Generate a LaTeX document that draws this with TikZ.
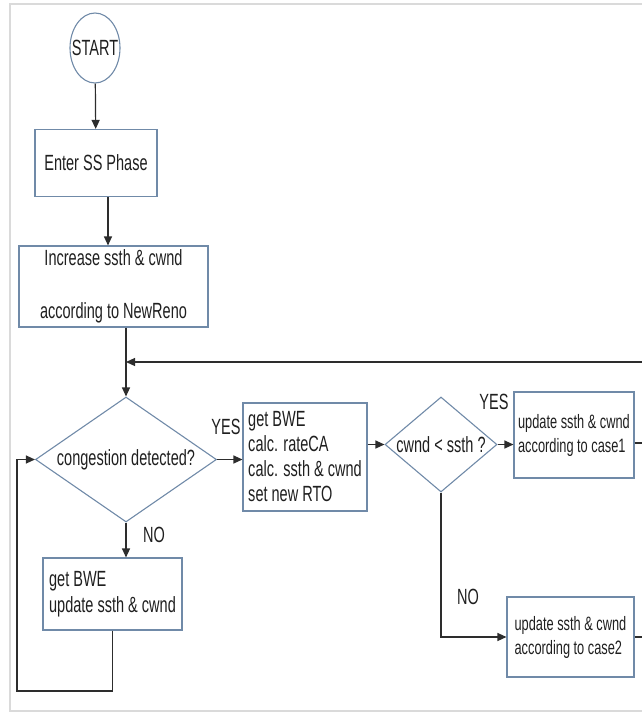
\documentclass[tikz,border=0pt]{standalone}
\usepackage{fontspec}
\setmainfont{Liberation Sans}[FakeStretch=0.66]
\usetikzlibrary{arrows.meta,shapes.geometric}
\definecolor{boxc}{RGB}{112,138,168}
\definecolor{linec}{RGB}{45,45,45}
\definecolor{framec}{RGB}{218,218,218}
\tikzset{
  every node/.style={font=\fontsize{22}{25}\selectfont, text=black!88},
  box/.style={draw=boxc, line width=1.1pt, rectangle, inner sep=0pt, align=left},
  dia/.style={draw=boxc, line width=1.1pt, diamond, inner sep=0pt},
  small/.style={font=\fontsize{19.4}{24}\selectfont},
  conn/.style={draw=linec, line width=1.2pt},
  arr/.style={conn, -{Triangle[length=9pt,width=8pt]}},
  lab/.style={inner sep=0pt}
}
\begin{document}
\begin{tikzpicture}[x=1pt,y=-1pt]
\useasboundingbox (0,0) rectangle (642,713);
\draw[framec, line width=1.6pt] (642,4) -- (10,4) -- (10,711) -- (642,711);

\node[draw=boxc, line width=1.1pt, ellipse, inner sep=0pt, minimum width=50pt, minimum height=70pt] (start) at (95,48) {\makebox[0pt]{START}};
\node[box, minimum width=122pt, minimum height=67pt, align=center] (enter) at (96,163) {Enter SS Phase};
\node[box, minimum width=189pt, minimum height=81pt, align=center] (incr) at (113.5,286.5) {Increase ssth \& cwnd\\[28pt]according to NewReno};
\node[dia, minimum width=181pt, minimum height=125pt] (d1) at (126,459.5) {\makebox[0pt]{congestion detected?}};
\node[box, minimum width=124pt, minimum height=108pt] (box2) at (305,457) {get BWE\\calc. rateCA\\calc. ssth \& cwnd\\set new RTO};
\node[dia, minimum width=112pt, minimum height=95pt] (d2) at (441,444.5) {\makebox[0pt]{cwnd < ssth ?}};
\node[box, small, minimum width=120pt, minimum height=86pt] (case1) at (574,435) {update ssth \& cwnd\\according to case1};
\node[box, small, minimum width=127pt, minimum height=80pt] (case2) at (570.5,637) {update ssth \& cwnd\\according to case2};
\node[box, font=\fontsize{22}{26}\selectfont, minimum width=139pt, minimum height=72pt] (box3) at (112.5,594) {get BWE\\update ssth \& cwnd};

\node[lab] (yes1) at (226,427) {YES};
\node[lab] (no1) at (154,535) {NO};
\node[lab] (yes2) at (494,402) {YES};
\node[lab] (no2) at (468,597) {NO};

\coordinate (fb) at (642,362);
\coordinate (c1out) at (642,443);
\coordinate (c2out) at (642,637);
\coordinate (loopc) at (17,691);

\draw[arr] (start) -- (enter);
\draw[arr] ([xshift=12pt]enter.south) -- ([xshift=12pt]enter.south |- incr.north);
\draw[arr] (incr.south -| d1.north) -- (d1.north);
\draw[arr] (fb) -- (fb -| d1.north);
\draw[arr] (d1.east) -- (d1.east -| box2.west);
\draw[arr] (box2.east |- d2.west) -- (d2.west);
\draw[arr] (d2.east) -- (d2.east -| case1.west);
\draw[conn] (c1out -| case1.east) -- (c1out);
\draw[arr] (d2.south) |- (case2.west);
\draw[conn] (case2.east) -- (c2out);
\draw[arr] (d1.south) -- (d1.south |- box3.north);
\draw[arr] (box3.south) |- (loopc) |- (d1.west);
\end{tikzpicture}
\end{document}
